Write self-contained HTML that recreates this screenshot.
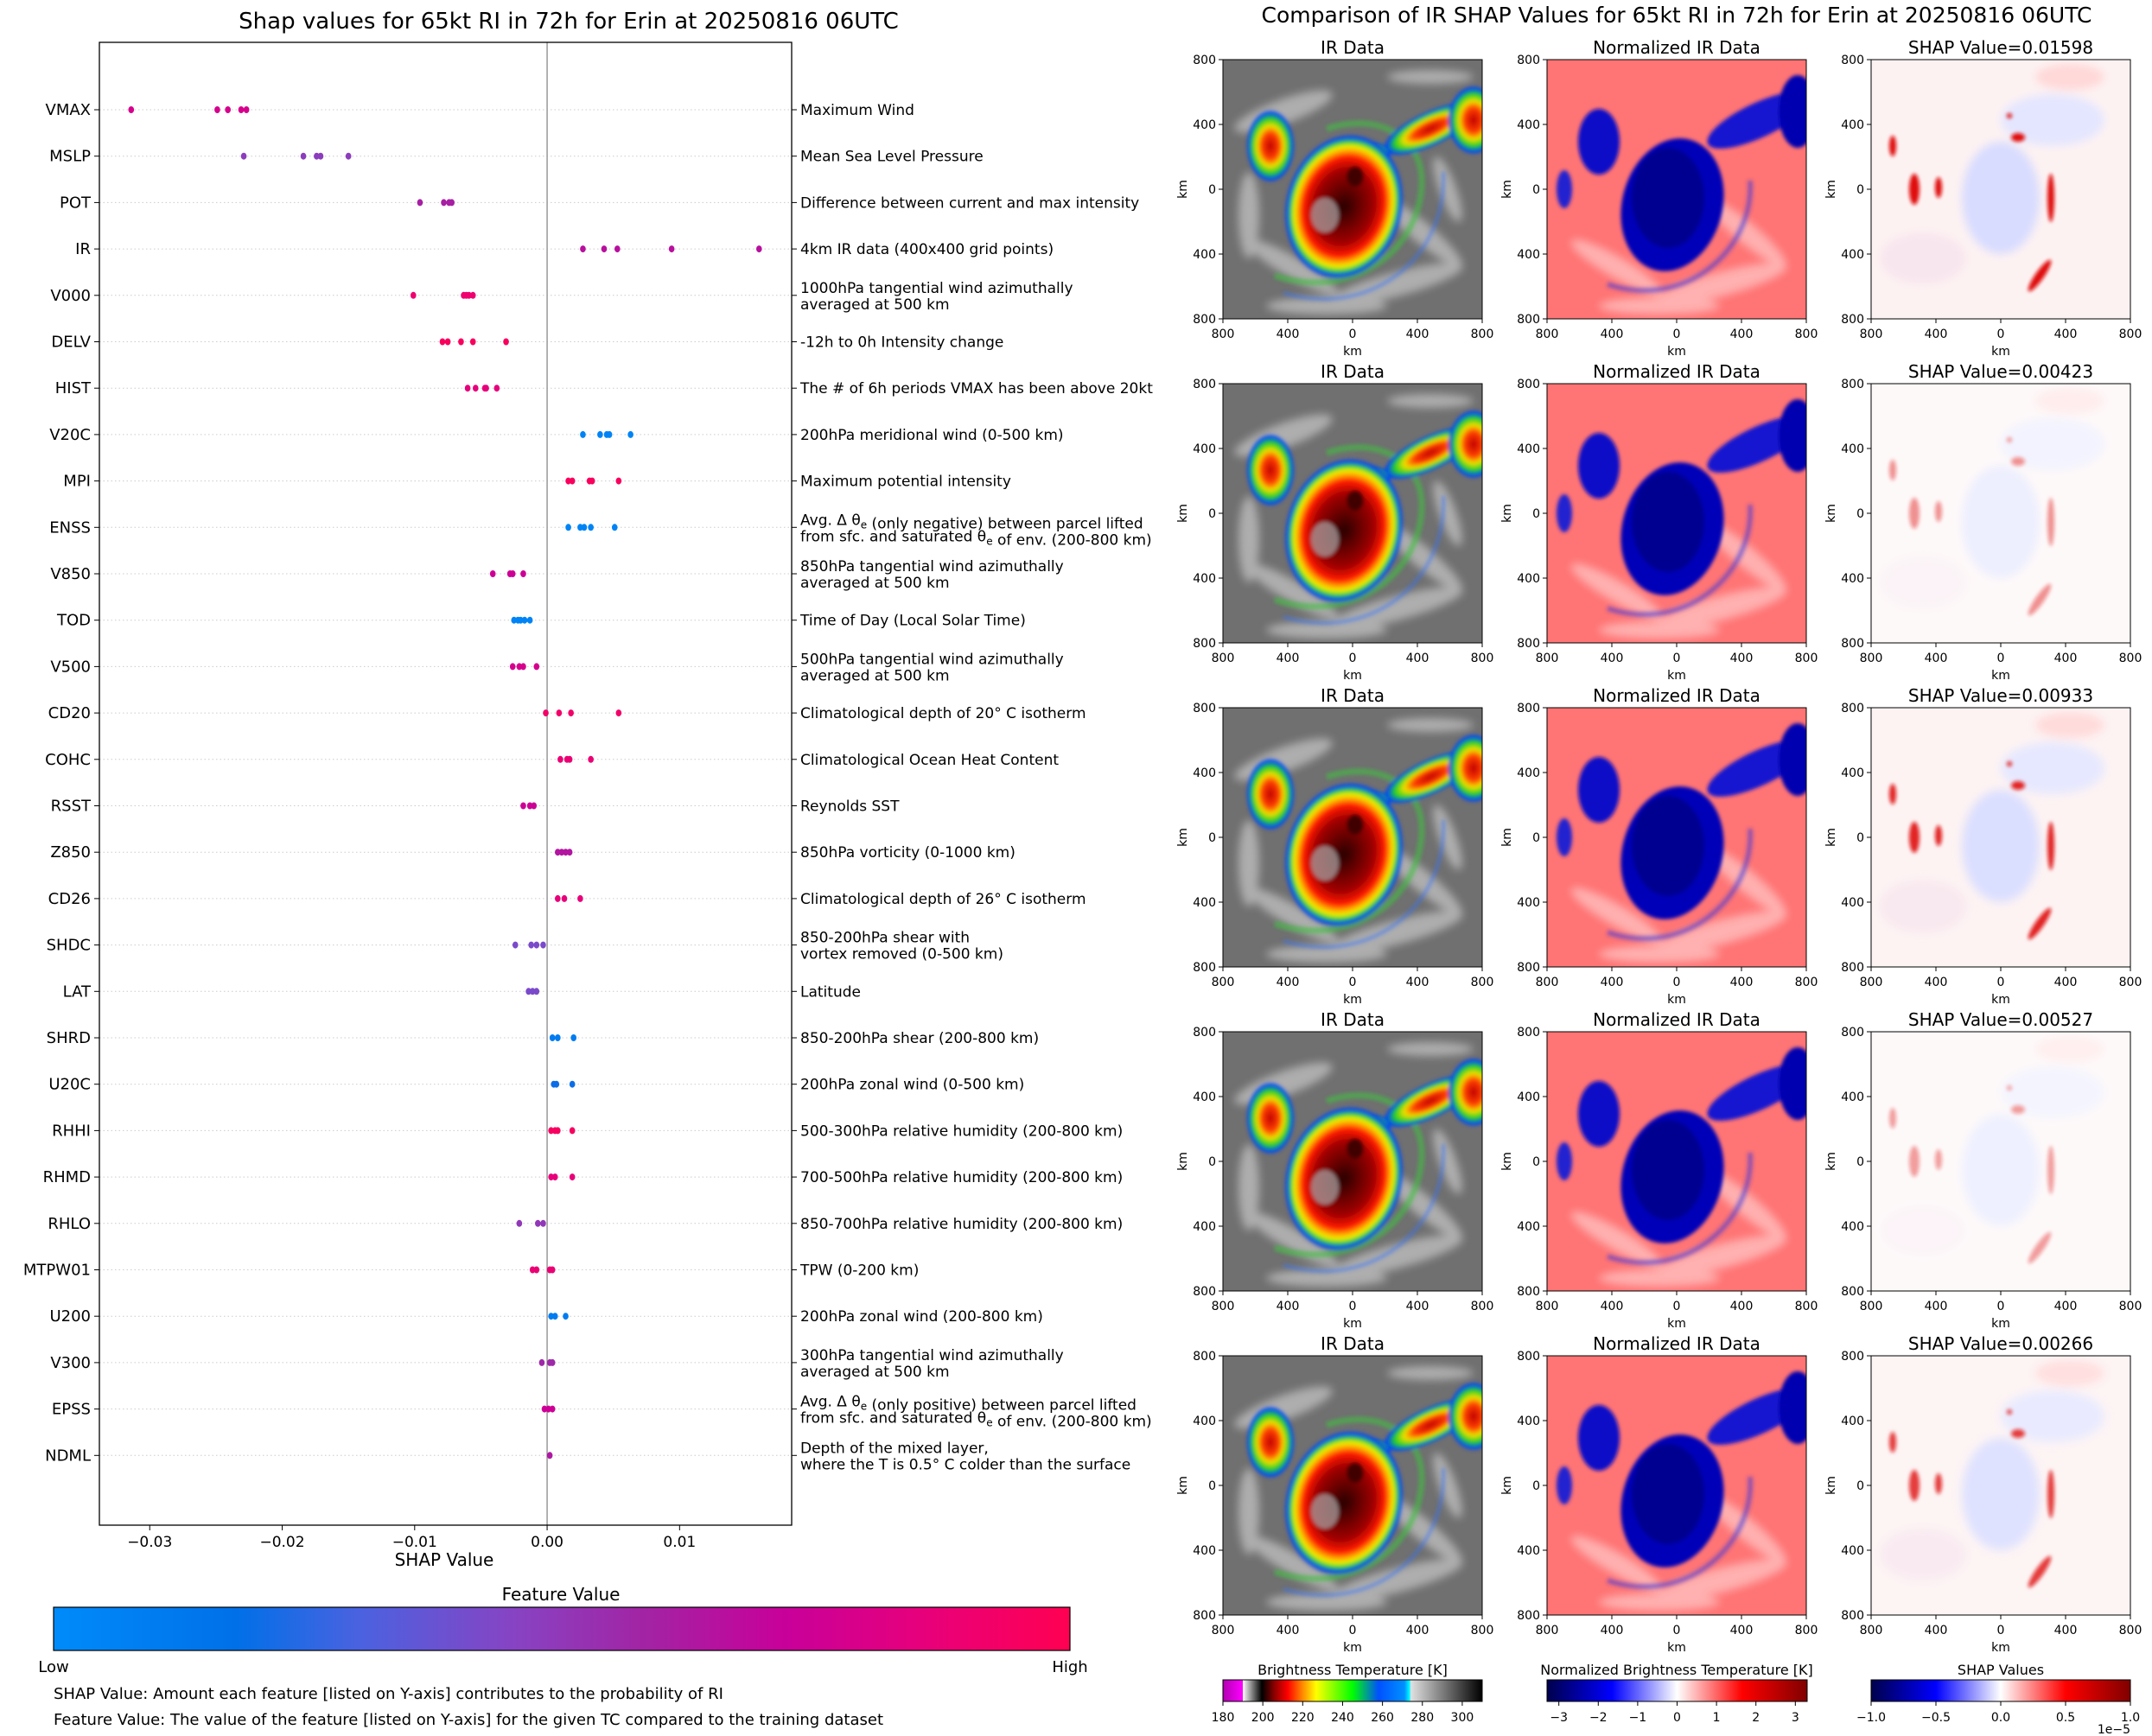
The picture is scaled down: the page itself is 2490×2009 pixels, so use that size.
<!DOCTYPE html>
<html><head><meta charset="utf-8">
<style>
html,body{margin:0;padding:0;background:#fff;}
svg{display:block;font-family:"DejaVu Sans","Liberation Sans",sans-serif;}
</style></head>
<body>
<svg id="root" width="2490" height="2009" viewBox="0 0 2490 2009" xmlns="http://www.w3.org/2000/svg">
<defs>
  <linearGradient id="fvGrad" x1="0" x2="1" y1="0" y2="0">
    <stop offset="0" stop-color="#008bfa"/><stop offset="0.18" stop-color="#0070e8"/>
    <stop offset="0.3" stop-color="#4a62e0"/><stop offset="0.45" stop-color="#8644c4"/>
    <stop offset="0.58" stop-color="#a224a4"/><stop offset="0.72" stop-color="#c8009a"/>
    <stop offset="0.86" stop-color="#e8007a"/><stop offset="1" stop-color="#ff0052"/>
  </linearGradient>
  <linearGradient id="irGrad" x1="0" x2="1">
    <stop offset="0" stop-color="#b000b0"/><stop offset="0.076" stop-color="#ff00ff"/>
    <stop offset="0.077" stop-color="#ffffff"/><stop offset="0.15" stop-color="#000"/>
    <stop offset="0.2" stop-color="#900000"/><stop offset="0.25" stop-color="#ff0000"/>
    <stop offset="0.31" stop-color="#ff9000"/><stop offset="0.36" stop-color="#ffff00"/>
    <stop offset="0.5" stop-color="#00ff00"/><stop offset="0.6" stop-color="#0050ff"/>
    <stop offset="0.7" stop-color="#0090ff"/><stop offset="0.72" stop-color="#00ffff"/>
    <stop offset="0.725" stop-color="#e0e0e0"/><stop offset="1" stop-color="#000"/>
  </linearGradient>
  <linearGradient id="seismic" x1="0" x2="1">
    <stop offset="0" stop-color="#00004c"/><stop offset="0.25" stop-color="#0000ff"/>
    <stop offset="0.5" stop-color="#ffffff"/><stop offset="0.75" stop-color="#ff0000"/>
    <stop offset="1" stop-color="#800000"/>
  </linearGradient>
  <radialGradient id="coreGrad" cx="0.5" cy="0.5" r="0.5">
    <stop offset="0" stop-color="#2a0000"/><stop offset="0.5" stop-color="#a00000"/>
    <stop offset="0.68" stop-color="#ff1a00"/><stop offset="0.76" stop-color="#ff9a00"/>
    <stop offset="0.83" stop-color="#f0f000"/><stop offset="0.89" stop-color="#30d030"/>
    <stop offset="0.95" stop-color="#0040ff"/><stop offset="1" stop-color="#0040ff" stop-opacity="0"/>
  </radialGradient>
  <radialGradient id="blobGrad" cx="0.5" cy="0.5" r="0.5">
    <stop offset="0" stop-color="#c00000"/><stop offset="0.35" stop-color="#ff4000"/>
    <stop offset="0.55" stop-color="#f0e000"/><stop offset="0.75" stop-color="#20d020"/>
    <stop offset="0.92" stop-color="#0040ff"/><stop offset="1" stop-color="#0040ff" stop-opacity="0"/>
  </radialGradient>
  <filter id="blur2"><feGaussianBlur stdDeviation="2"/></filter>
  <filter id="blur5"><feGaussianBlur stdDeviation="5"/></filter>
  <g id="irImg">
    <rect width="300" height="300" fill="#707070"/>
    <g filter="url(#blur5)" opacity="0.6" fill="#d8d8d8">
      <ellipse cx="70" cy="60" rx="60" ry="14" transform="rotate(-20 70 60)"/>
      <ellipse cx="230" cy="200" rx="60" ry="12" transform="rotate(40 230 200)"/>
      <ellipse cx="200" cy="260" rx="80" ry="14" transform="rotate(-15 200 260)"/>
      <ellipse cx="80" cy="240" rx="60" ry="12" transform="rotate(30 80 240)"/>
      <ellipse cx="260" cy="150" rx="40" ry="10" transform="rotate(70 260 150)"/>
      <ellipse cx="120" cy="285" rx="70" ry="10"/>
      <ellipse cx="30" cy="180" rx="12" ry="50"/>
      <ellipse cx="240" cy="20" rx="50" ry="8"/>
    </g>
    <g filter="url(#blur2)">
      <path d="M60,250 C150,280 230,220 230,140 C230,90 180,60 120,80" fill="none" stroke="#40c040" stroke-width="7" opacity="0.6"/>
      <path d="M70,270 C170,300 260,230 255,130" fill="none" stroke="#3070ff" stroke-width="4" opacity="0.5"/>
      <ellipse cx="240" cy="80" rx="60" ry="20" transform="rotate(-25 240 80)" fill="url(#blobGrad)"/>
      <ellipse cx="290" cy="70" rx="30" ry="40" fill="url(#blobGrad)"/>
      <ellipse cx="55" cy="100" rx="28" ry="42" fill="url(#blobGrad)"/>
      <ellipse cx="165" cy="108" rx="30" ry="14" fill="url(#blobGrad)"/>
      <ellipse cx="140" cy="170" rx="68" ry="85" transform="rotate(15 140 170)" fill="url(#coreGrad)"/>
      <ellipse cx="118" cy="180" rx="16" ry="20" fill="#aaaaaa" opacity="0.7"/>
      <ellipse cx="153" cy="135" rx="10" ry="12" fill="#400000"/>
    </g>
  </g>
  <g id="normImg">
    <rect width="300" height="300" fill="#ff7474"/>
    <g filter="url(#blur5)" opacity="0.6" fill="#ffd8d8">
      <ellipse cx="230" cy="200" rx="60" ry="12" transform="rotate(40 230 200)"/>
      <ellipse cx="200" cy="260" rx="80" ry="14" transform="rotate(-15 200 260)"/>
      <ellipse cx="80" cy="240" rx="60" ry="12" transform="rotate(30 80 240)"/>
      <ellipse cx="130" cy="285" rx="70" ry="10"/>
    </g>
    <g filter="url(#blur2)">
      <path d="M70,260 C160,290 240,220 235,140" fill="none" stroke="#3030e0" stroke-width="6" opacity="0.5"/>
      <ellipse cx="145" cy="168" rx="58" ry="78" transform="rotate(15 145 168)" fill="#0000b8"/>
      <ellipse cx="140" cy="160" rx="42" ry="58" fill="#000090"/>
      <ellipse cx="245" cy="70" rx="65" ry="20" transform="rotate(-25 245 70)" fill="#1818d0"/>
      <ellipse cx="290" cy="60" rx="22" ry="42" fill="#0000b0"/>
      <ellipse cx="60" cy="95" rx="24" ry="38" fill="#1010c8"/>
      <ellipse cx="20" cy="150" rx="9" ry="22" fill="#2020d0"/>
    </g>
  </g>
  <g id="shapImg">
    <rect width="300" height="300" fill="#fdf2f2"/>
    <g filter="url(#blur5)">
      <ellipse cx="150" cy="160" rx="45" ry="65" fill="#d8dcff"/>
      <ellipse cx="210" cy="70" rx="60" ry="30" fill="#e4e6ff"/>
      <ellipse cx="230" cy="20" rx="40" ry="15" fill="#ffd8d8"/>
      <ellipse cx="60" cy="230" rx="50" ry="30" fill="#f8e6ee"/>
    </g>
    <g filter="url(#blur2)" fill="#e01010">
      <ellipse cx="25" cy="100" rx="4" ry="12"/>
      <ellipse cx="50" cy="150" rx="6" ry="18"/>
      <ellipse cx="78" cy="148" rx="4" ry="12"/>
      <ellipse cx="208" cy="160" rx="4" ry="28"/>
      <ellipse cx="195" cy="250" rx="5" ry="22" transform="rotate(35 195 250)"/>
      <ellipse cx="170" cy="90" rx="8" ry="5"/>
      <ellipse cx="160" cy="65" rx="3" ry="3"/>
    </g>
  </g>
</defs>
<rect width="2490" height="2009" fill="#fff"/>

<text x="658" y="33" font-size="26" text-anchor="middle">Shap values for 65kt RI in 72h for Erin at 20250816 06UTC</text>
<g id="chart"></g>
<text x="514" y="1812" font-size="20" text-anchor="middle">SHAP Value</text>
<text x="649" y="1852" font-size="20" text-anchor="middle">Feature Value</text>
<rect x="62" y="1860" width="1176" height="50" fill="url(#fvGrad)" stroke="#000" stroke-width="1.2"/>
<text x="62" y="1935" font-size="18" text-anchor="middle">Low</text>
<text x="1238" y="1935" font-size="18" text-anchor="middle">High</text>
<text x="62" y="1966" font-size="18">SHAP Value: Amount each feature [listed on Y-axis] contributes to the probability of RI</text>
<text x="62" y="1996" font-size="18">Feature Value: The value of the feature [listed on Y-axis] for the given TC compared to the training dataset</text>

<text x="1940" y="26" font-size="25" text-anchor="middle">Comparison of IR SHAP Values for 65kt RI in 72h for Erin at 20250816 06UTC</text>
<g id="panels"></g>

<g>
  <text x="1565" y="1938" font-size="16" text-anchor="middle">Brightness Temperature [K]</text>
  <rect x="1415" y="1944" width="300" height="25" fill="url(#irGrad)" stroke="#000"/>
  <text x="1940" y="1938" font-size="16" text-anchor="middle">Normalized Brightness Temperature [K]</text>
  <rect x="1790" y="1944" width="301" height="25" fill="url(#seismic)" stroke="#000"/>
  <text x="2315" y="1938" font-size="16" text-anchor="middle">SHAP Values</text>
  <rect x="2165" y="1944" width="300" height="25" fill="url(#seismic)" stroke="#000"/>
  <text x="2465" y="2006" font-size="14" text-anchor="end">1e−5</text>
  <g id="cbticks"></g>
</g>
</svg>
<script>
// ---- chart data ----
const features = ["VMAX","MSLP","POT","IR","V000","DELV","HIST","V20C","MPI","ENSS","V850","TOD","V500","CD20","COHC","RSST","Z850","CD26","SHDC","LAT","SHRD","U20C","RHHI","RHMD","RHLO","MTPW01","U200","V300","EPSS","NDML"];
const descriptions = [
 ["Maximum Wind"],["Mean Sea Level Pressure"],["Difference between current and max intensity"],
 ["4km IR data (400x400 grid points)"],["1000hPa tangential wind azimuthally","averaged at 500 km"],
 ["-12h to 0h Intensity change"],["The # of 6h periods VMAX has been above 20kt"],
 ["200hPa meridional wind (0-500 km)"],["Maximum potential intensity"],
 ["Avg. \u0394 \u03b8_e (only negative) between parcel lifted","from sfc. and saturated \u03b8_e of env. (200-800 km)"],
 ["850hPa tangential wind azimuthally","averaged at 500 km"],["Time of Day (Local Solar Time)"],
 ["500hPa tangential wind azimuthally","averaged at 500 km"],["Climatological depth of 20\u00b0 C isotherm"],
 ["Climatological Ocean Heat Content"],["Reynolds SST"],["850hPa vorticity (0-1000 km)"],
 ["Climatological depth of 26\u00b0 C isotherm"],["850-200hPa shear with","vortex removed (0-500 km)"],
 ["Latitude"],["850-200hPa shear (200-800 km)"],["200hPa zonal wind (0-500 km)"],
 ["500-300hPa relative humidity (200-800 km)"],["700-500hPa relative humidity (200-800 km)"],
 ["850-700hPa relative humidity (200-800 km)"],["TPW (0-200 km)"],["200hPa zonal wind (200-800 km)"],
 ["300hPa tangential wind azimuthally","averaged at 500 km"],
 ["Avg. \u0394 \u03b8_e (only positive) between parcel lifted","from sfc. and saturated \u03b8_e of env. (200-800 km)"],
 ["Depth of the mixed layer,","where the T is 0.5\u00b0 C colder than the surface"]
];
const shapValues = [
 [-0.0314,-0.0249,-0.0241,-0.0231,-0.0227],
 [-0.0229,-0.0184,-0.0174,-0.0171,-0.0150],
 [-0.0096,-0.0078,-0.0074,-0.0072],
 [0.0027,0.0043,0.0053,0.0094,0.0160],
 [-0.0101,-0.0063,-0.0061,-0.0059,-0.0056],
 [-0.0079,-0.0075,-0.0065,-0.0056,-0.0031],
 [-0.0060,-0.0054,-0.0047,-0.0046,-0.0038],
 [0.0027,0.0040,0.0045,0.0047,0.0063],
 [0.0016,0.0019,0.0032,0.0034,0.0054],
 [0.0016,0.0025,0.0028,0.0033,0.0051],
 [-0.0041,-0.0028,-0.0026,-0.0018],
 [-0.0025,-0.0022,-0.0020,-0.0017,-0.0013],
 [-0.0026,-0.0021,-0.0018,-0.0008],
 [-0.0001,0.0009,0.0018,0.0054],
 [0.0010,0.0015,0.0017,0.0033],
 [-0.0018,-0.0013,-0.0010],
 [0.0008,0.0011,0.0014,0.0017],
 [0.0008,0.0013,0.0025],
 [-0.0024,-0.0012,-0.0008,-0.0003],
 [-0.0014,-0.0011,-0.0008],
 [0.0004,0.0008,0.0020],
 [0.0005,0.0007,0.0019],
 [0.0003,0.0006,0.0008,0.0019],
 [0.0003,0.0006,0.0019],
 [-0.0021,-0.0007,-0.0003],
 [-0.0011,-0.0008,0.0002,0.0004],
 [0.0003,0.0006,0.0014],
 [-0.0004,0.0002,0.0004],
 [-0.0002,0.0001,0.0004],
 [0.0002]
];
const featureValues = [0.78,0.48,0.6,0.66,0.9,0.96,0.85,0.05,0.96,0.05,0.74,0.05,0.78,0.92,0.88,0.74,0.64,0.86,0.42,0.42,0.1,0.2,0.95,0.86,0.5,0.88,0.1,0.56,0.74,0.62];
const xTicks = [-0.03,-0.02,-0.01,0.00,0.01];
const xTickLabels = ["\u22120.03","\u22120.02","\u22120.01","0.00","0.01"];

const NS = "http://www.w3.org/2000/svg";
const PL=115, PR=916, PT=49, PB=1765;
const XMIN=-0.0338, XMAX=0.01846;
function xScale(v){ return PL + (v - XMIN) / (XMAX - XMIN) * (PR - PL); }
function yScale(i){ return 127 + i * 53.7; }
const cStops=[[0,[0,139,250]],[0.18,[0,112,232]],[0.3,[74,98,224]],[0.45,[134,68,196]],[0.58,[162,36,164]],[0.72,[200,0,154]],[0.86,[232,0,122]],[1,[255,0,82]]];
function fvColor(t){
  for(let k=1;k<cStops.length;k++){ if(t<=cStops[k][0]){ const a=cStops[k-1],b=cStops[k]; const f=(t-a[0])/(b[0]-a[0]);
    const c=a[1].map((v,j)=>Math.round(v+(b[1][j]-v)*f)); return "rgb("+c.join(",")+")"; } }
  return "rgb(255,0,82)";
}
function mk(tag, attrs, parent){ const e=document.createElementNS(NS,tag); for(const k in attrs) e.setAttribute(k,attrs[k]); parent.appendChild(e); return e; }

const chart=document.getElementById("chart");
features.forEach((f,i)=>{
  const y=yScale(i);
  const g=mk("line",{x1:PL,x2:PR,y1:y,y2:y,stroke:"#ccc","stroke-width":1,"stroke-dasharray":"1.5,3"},chart);
  
  
});
const zl=mk("line",{x1:xScale(0),x2:xScale(0),y1:PT,y2:PB,stroke:"#999","stroke-width":1.5},chart);


const frame=mk("rect",{x:PL,y:PT,width:PR-PL,height:PB-PT,fill:"none",stroke:"#000","stroke-width":1.3},chart);


function fillDesc(el, s){
  const parts=s.split("_e");
  parts.forEach((p,k)=>{
    const t1=mk("tspan",{},el); t1.textContent=p;
    if(k<parts.length-1){ const t2=mk("tspan",{"font-size":12,dy:4},el); t2.textContent="e";
      const t3=mk("tspan",{dy:-4},el); t3.textContent=""; }
  });
}
features.forEach((f,i)=>{
  const y=yScale(i);
  mk("line",{x1:PL-6,x2:PL,y1:y,y2:y,stroke:"#000"},chart);
  mk("line",{x1:PR,x2:PR+6,y1:y,y2:y,stroke:"#000"},chart);
  const t=mk("text",{x:PL-10,y:y+6,"font-size":18,"text-anchor":"end"},chart);
  t.textContent=f;
  
  
  const lines=descriptions[i];
  lines.forEach((ln,j)=>{
    const yy = lines.length===1 ? y+6 : (j===0 ? y-3 : y+16);
    const d=mk("text",{x:PR+10,y:yy,"font-size":17},chart);
    fillDesc(d, ln);
    
    
  });
  shapValues[i].forEach(v=>{
    const c=mk("ellipse",{cx:xScale(v),cy:y,rx:3.3,ry:4,fill:fvColor(featureValues[i])},chart);
    
    
  });
});
xTicks.forEach((v,k)=>{
  const x=xScale(v);
  mk("line",{x1:x,x2:x,y1:PB,y2:PB+6,stroke:"#000"},chart);
  const t=mk("text",{x:x,y:PB+25,"font-size":17,"text-anchor":"middle"},chart);
  t.textContent=xTickLabels[k];
  
  
});

// ---- image panels ----
const rowTops=[69,444,819,1194,1569];
const colLefts=[1415,1790,2165];
const shapTitles=["SHAP Value=0.01598","SHAP Value=0.00423","SHAP Value=0.00933","SHAP Value=0.00527","SHAP Value=0.00266"];
const shapOpacity=[1,0.45,0.9,0.4,0.8];
const panels=document.getElementById("panels");
const imgIds=["irImg","normImg","shapImg"];
const kmLabels=["800","400","0","400","800"];
rowTops.forEach((top,r)=>{
  colLefts.forEach((left,c)=>{
    const title = c===0?"IR Data":(c===1?"Normalized IR Data":shapTitles[r]);
    const tt=mk("text",{x:left+150,y:top-7,"font-size":20,"text-anchor":"middle"},panels);
    tt.textContent=title;
    
    
    const sv=mk("svg",{x:left,y:top,width:300,height:300,overflow:"hidden"},panels);
    
    
    if(c===2){ mk("rect",{width:300,height:300,fill:"#fff"},sv); }
    const u=mk("use",{href:"#"+imgIds[c]},sv);
    if(c===2) u.setAttribute("opacity",shapOpacity[r]);
    mk("rect",{x:left,y:top,width:300,height:300,fill:"none",stroke:"#000","stroke-width":1},panels);
    for(let k=0;k<5;k++){
      const p=k*75;
      mk("line",{x1:left-5,x2:left,y1:top+p,y2:top+p,stroke:"#000"},panels);
      const yl=mk("text",{x:left-8,y:top+p+5,"font-size":14,"text-anchor":"end"},panels);
      yl.textContent=kmLabels[k];
      mk("line",{x1:left+p,x2:left+p,y1:top+300,y2:top+305,stroke:"#000"},panels);
      const xl=mk("text",{x:left+p,y:top+322,"font-size":14,"text-anchor":"middle"},panels);
      xl.textContent=kmLabels[k];
    }
    const xk=mk("text",{x:left+150,y:top+342,"font-size":14,"text-anchor":"middle"},panels);
    xk.textContent="km";
    const yk=mk("text",{x:left-42,y:top+150,"font-size":14,"text-anchor":"middle",transform:"rotate(-90 "+(left-42)+" "+(top+150)+")"},panels);
    yk.textContent="km";
  });
});

// ---- colorbar ticks ----
const irTicks=[180,200,220,240,260,280,300];
const normTicks=[-3,-2,-1,0,1,2,3];
const shapTicks=[-1.0,-0.5,0.0,0.5,1.0];
const cb=document.getElementById("cbticks");
function cbTick(x,label){
  mk("line",{x1:x,x2:x,y1:1969,y2:1974,stroke:"#000"},cb);
  const t=mk("text",{x:x,y:1992,"font-size":14,"text-anchor":"middle"},cb);
  t.textContent=label;
}
irTicks.forEach(v=>cbTick(1415+(v-180)/130*300,String(v)));
normTicks.forEach(v=>cbTick(1790+(v+3.3)/6.6*301,v<0?"\u2212"+(-v):String(v)));
shapTicks.forEach(v=>cbTick(2165+(v+1)/2*300,(v<0?"\u2212":"")+Math.abs(v).toFixed(1)));
</script>
</body></html>
